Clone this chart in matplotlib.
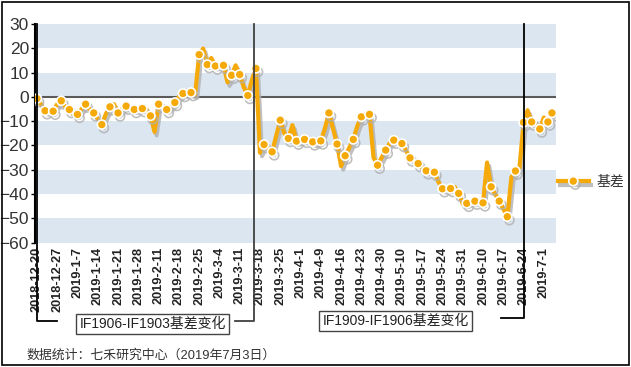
import matplotlib
matplotlib.use("Agg")
import matplotlib.pyplot as plt
import matplotlib.patheffects as pe
from matplotlib.transforms import blended_transform_factory
import numpy as np

plt.rcParams['font.family'] = ['Liberation Sans', 'Noto Sans CJK SC']

# basis value (IF next - IF current), one point per trading day 2018-12-20 .. 2019-7-3
basis = [-0.7, -3, -5.7, -6, -5.9, -3, -1.6, -4, -5.2, -7,
         -7.2, -5, -3.0, -5, -6.6, -9, -11.4, -7, -4.1, -3,
         -6.6, -5, -3.8, -5, -5.2, -5, -4.8, -5, -7.8, -14.4,
         -3.0, -4, -5.2, -4, -2.3, 0, 1.4, 1.5, 1.8, 1,
         17.4, 19.9, 13.3, 16, 12.7, 13, 13.0, 6, 8.9, 13,
         9.2, 4, 0.6, 7, 11.7, -23, -19.6, -21, -22.6, -16,
         -9.6, -15, -17.1, -11.6, -18.2, -18, -17.5, -18, -18.5, -19,
         -18.1, -13, -6.6, -13, -19.4, -28.5, -24.2, -21, -17.5, -12,
         -8.2, -7, -7.2, -25, -28.1, -25, -21.9, -19, -17.8, -18,
         -19.2, -22, -25.1, -26, -27.4, -29, -30.4, -30, -31, -35,
         -37.8, -38, -37.7, -37, -39.7, -44, -43.8, -43, -42.9, -43,
         -43.6, -27, -37, -40, -42.9, -46, -49.3, -33, -30.5, -29,
         -10.5, -5.5, -10.3, -11, -13.2, -8.5, -10.3, -6.6]

tick_labels = ['2018-12-20', '2018-12-27', '2019-1-7', '2019-1-14', '2019-1-21',
               '2019-1-28', '2019-2-11', '2019-2-18', '2019-2-25', '2019-3-4',
               '2019-3-11', '2019-3-18', '2019-3-25', '2019-4-1', '2019-4-9',
               '2019-4-16', '2019-4-23', '2019-4-30', '2019-5-10', '2019-5-17',
               '2019-5-24', '2019-5-31', '2019-6-10', '2019-6-17', '2019-6-24',
               '2019-7-1']
tick_step = 5

# contract switch positions (index) and bracket labels
switch_pos = [0, 53.6, 120.2]
period_labels = ['IF1906-IF1903基差变化', 'IF1909-IF1906基差变化']

orange = '#F5AA0A'
band = '#DCE6F1'

fig = plt.figure(figsize=(6.31, 3.67), dpi=100)
W, H = 631, 367
ax = fig.add_axes([34.5 / W, (H - 242.7) / H, (556 - 34.5) / W, (242.7 - 24) / H])

x = np.arange(len(basis))
ax.set_xlim(-0.6, 128)
ax.set_ylim(-60, 30)

for lo in [20, 0, -20, -40, -60]:
    ax.axhspan(lo, lo + 10, color=band, lw=0, zorder=0)
ax.axhline(0, color='#5a5a5a', lw=1.5, zorder=1)

marks = list(range(0, len(basis), 2)) + [len(basis) - 1]
ax.plot(x, basis, color=orange, lw=3, marker='o', ms=6.5, mfc=orange, mec='white',
        mew=1.2, markevery=marks, label='基差', zorder=3,
        path_effects=[pe.SimpleLineShadow(offset=(1.5, -2.5), shadow_color='#b0b0b0', alpha=0.8),
                      pe.Normal()])

ax.set_yticks(np.arange(-60, 31, 10))
ax.tick_params(axis='y', labelsize=12.5, length=3, width=1, direction='out', pad=1,
               colors='black', labelcolor='#333333')
ax.set_xticks(np.arange(0, len(tick_labels) * tick_step, tick_step))
ax.set_xticklabels(tick_labels, rotation=90, fontsize=9.2, fontweight='bold', color='#222222')
ax.tick_params(axis='x', length=0, pad=3)

for s in ['top', 'right', 'bottom']:
    ax.spines[s].set_visible(False)
ax.spines['left'].set_color('black')
ax.spines['left'].set_linewidth(1.5)

# vertical markers and brackets
tr = blended_transform_factory(ax.transData, fig.transFigure)
ytop = (H - 24) / H
ybr = [(H - 321) / H, (H - 321) / H, (H - 318) / H]
hend = [5, 48.9, 114.4]
cols = ['black', '#404040', 'black']
for p, yb, he, c in zip(switch_pos, ybr, hend, cols):
    ax.plot([p, p, he], [ytop, yb, yb], color=c, lw=1.3, transform=tr, clip_on=False, zorder=4)

fig.text(152.5 / W, (H - 324) / H, period_labels[0], fontsize=10, color='#222222',
         ha='center', va='center',
         bbox=dict(boxstyle='square,pad=0.25', fc='white', ec='#444444', lw=1))
fig.text(395.5 / W, (H - 321) / H, period_labels[1], fontsize=10, color='#222222',
         ha='center', va='center',
         bbox=dict(boxstyle='square,pad=0.25', fc='white', ec='#444444', lw=1))

fig.text(26 / W, (H - 355) / H, '数据统计：七禾研究中心（2019年7月3日）', fontsize=9.3,
         color='#333333', ha='left', va='center')

ax.legend(loc='center left', bbox_to_anchor=(558 / W, (H - 182) / H),
          bbox_transform=fig.transFigure, frameon=False, fontsize=10, handlelength=2.2,
          numpoints=1, labelcolor='#333333', handletextpad=0.6, borderaxespad=0,
          borderpad=0)

fig.add_artist(plt.Rectangle((2 / W, 2 / H), 627 / W, 363 / H, fill=False,
                             ec='black', lw=1.2, transform=fig.transFigure))

fig.savefig('out.png', dpi=100)
